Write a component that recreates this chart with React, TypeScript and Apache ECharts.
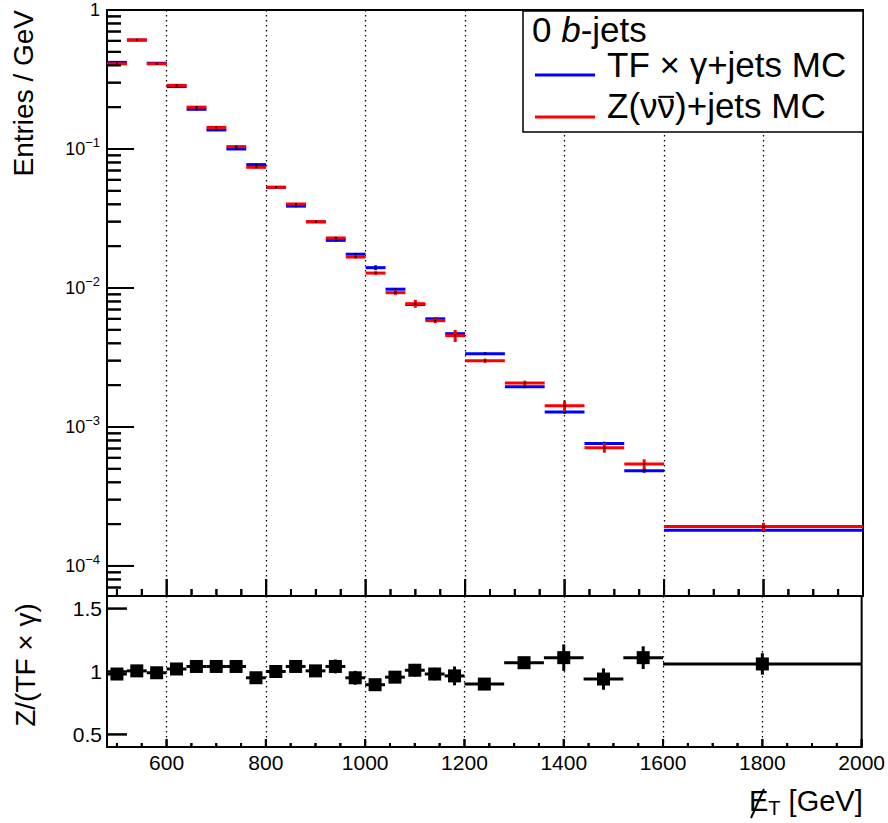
import React, { useEffect, useRef } from "react";
import * as echarts from "echarts";

// ---- data ----
const binEdges = [480, 520, 560, 600, 640, 680, 720, 760, 800, 840, 880, 920, 960, 1000, 1040, 1080, 1120, 1160, 1200, 1280, 1360, 1440, 1520, 1600, 2000];
const zValues = [0.41, 0.61, 0.41, 0.287, 0.2, 0.143, 0.104, 0.0738, 0.053, 0.0402, 0.03, 0.0229, 0.0167, 0.0128, 0.00925, 0.00771, 0.00582, 0.00454, 0.003, 0.00207, 0.00142, 0.00071, 0.000542, 0.000192];
const zRelErr = [0.006, 0.006, 0.007, 0.008, 0.009, 0.01, 0.012, 0.014, 0.016, 0.018, 0.02, 0.022, 0.025, 0.03, 0.035, 0.066, 0.04, 0.1, 0.035, 0.04, 0.09, 0.08, 0.08, 0.066];
const tfValues = [0.42, 0.607, 0.414, 0.281, 0.193, 0.137, 0.1, 0.0772, 0.053, 0.0388, 0.0299, 0.022, 0.0175, 0.014, 0.0098, 0.0076, 0.006, 0.00469, 0.00337, 0.00195, 0.00128, 0.00076, 0.000485, 0.000181];
const tfRelErr = [0.004, 0.004, 0.005, 0.005, 0.006, 0.006, 0.007, 0.008, 0.009, 0.01, 0.011, 0.012, 0.014, 0.04, 0.016, 0.018, 0.02, 0.022, 0.025, 0.025, 0.03, 0.03, 0.035, 0.03];
const ratioValues = [0.98, 1.005, 0.99, 1.02, 1.04, 1.04, 1.04, 0.95, 1.0, 1.04, 1.005, 1.04, 0.95, 0.895, 0.955, 1.01, 0.98, 0.965, 0.9, 1.07, 1.11, 0.94, 1.11, 1.06];
const ratioErr = [0.02, 0.02, 0.02, 0.02, 0.02, 0.02, 0.025, 0.025, 0.03, 0.03, 0.035, 0.055, 0.055, 0.045, 0.045, 0.05, 0.05, 0.075, 0.045, 0.04, 0.105, 0.085, 0.09, 0.085];

const xMajorTicks = [600, 800, 1000, 1200, 1400, 1600, 1800, 2000];
const xGridLines = [600, 800, 1000, 1200, 1400, 1600, 1800];
const yMajorTicks = [0.0001, 0.001, 0.01, 0.1, 1];
const ratioTicks = [0.5, 1, 1.5];

const X_MIN = 480;
const X_MAX = 2000;
const Y_MIN = 6.08e-5;
const Y_MAX = 1;
const R_MIN = 0.4;
const R_MAX = 1.6;

const xMinorTicks: number[] = [];
for (let v = 500; v < 2000; v += 50) if (xMajorTicks.indexOf(v) < 0) xMinorTicks.push(v);
const yMinorTicks: number[] = [];
for (let k = -5; k <= -1; k++) {
  for (let m = 2; m <= 9; m++) {
    const v = m * Math.pow(10, k);
    if (v > Y_MIN && v < Y_MAX) yMinorTicks.push(v);
  }
}

const FONT = "'Liberation Sans', Arial, Helvetica, sans-serif";
const LEG_SIZE = 35;

// tick items shaped like the histogram items: [xLo, xHi, y, isMajor, isYTick]
const upperTickData = [
  ...xMajorTicks.map((v) => [v, v, Y_MIN, 1, 0]),
  ...xMinorTicks.map((v) => [v, v, Y_MIN, 0, 0]),
  ...yMajorTicks.map((v) => [X_MIN, X_MIN, v, 1, 1]),
  ...yMinorTicks.map((v) => [X_MIN, X_MIN, v, 0, 1]),
];
const ratioTickData = [
  ...xMajorTicks.map((v) => [v, v, R_MIN, 1, 0]),
  ...xMinorTicks.map((v) => [v, v, R_MIN, 0, 0]),
  ...ratioTicks.map((v) => [X_MIN, X_MIN, v, 1, 1]),
];

function histData(values: number[], rel: number[]) {
  return values.map((v, i) => [binEdges[i], binEdges[i + 1], v, v * rel[i]]);
}

function histRender(color: string) {
  return (params: any, api: any) => {
    const lo = api.value(0);
    const hi = api.value(1);
    const v = api.value(2);
    const e = api.value(3);
    const mid = (lo + hi) / 2;
    const a = api.coord([lo, v]);
    const b = api.coord([hi, v]);
    const up = api.coord([mid, v + e]);
    const dn = api.coord([mid, v - e]);
    return {
      type: "group",
      children: [
        { type: "line", shape: { x1: a[0], y1: a[1], x2: b[0], y2: b[1] }, style: { stroke: color, lineWidth: 3 } },
        { type: "line", shape: { x1: up[0], y1: up[1], x2: dn[0], y2: dn[1] }, style: { stroke: color, lineWidth: 3 } },
        { type: "rect", shape: { x: up[0] - 1, y: a[1] - 1, width: 2, height: 2 }, style: { fill: "#000" } },
      ],
    };
  };
}

function ratioRender(params: any, api: any) {
  const lo = api.value(0);
  const hi = api.value(1);
  const v = api.value(2);
  const e = api.value(3);
  const mid = (lo + hi) / 2;
  const a = api.coord([lo, v]);
  const b = api.coord([hi, v]);
  const c = api.coord([mid, v]);
  const up = api.coord([mid, v + e]);
  const dn = api.coord([mid, v - e]);
  return {
    type: "group",
    children: [
      { type: "line", shape: { x1: a[0], y1: a[1], x2: b[0], y2: b[1] }, style: { stroke: "#000", lineWidth: 3 } },
      { type: "line", shape: { x1: up[0], y1: up[1], x2: dn[0], y2: dn[1] }, style: { stroke: "#000", lineWidth: 3 } },
      { type: "rect", shape: { x: c[0] - 6.5, y: c[1] - 6.5, width: 13, height: 13 }, style: { fill: "#000" } },
    ],
  };
}

function tickRender(xMajor: number, xMinor: number, yMajor: number, yMinor: number) {
  return (params: any, api: any) => {
    const x = api.value(0);
    const y = api.value(2);
    const major = api.value(3) > 0.5;
    const isY = api.value(4) > 0.5;
    const p = api.coord([x, y]);
    if (isY) {
      const len = major ? yMajor : yMinor;
      return { type: "line", shape: { x1: p[0], y1: p[1], x2: p[0] + len, y2: p[1] }, style: { stroke: "#000", lineWidth: 2 } };
    }
    const len = major ? xMajor : xMinor;
    return { type: "line", shape: { x1: p[0], y1: p[1], x2: p[0], y2: p[1] - len }, style: { stroke: "#000", lineWidth: 2 } };
  };
}

function logLabel(value: number) {
  const ex = Math.round(Math.log10(value));
  if (ex === 0) return "{b|1}";
  return "{b|10}{sup|\u2212" + -ex + "}";
}

function measure(text: string, size: number) {
  try {
    const c = document.createElement("canvas").getContext("2d");
    if (!c) return text.length * size * 0.5;
    c.font = size + "px 'Liberation Sans'";
    return c.measureText(text).width;
  } catch (e) {
    return text.length * size * 0.5;
  }
}

export default function App() {
  const ref = useRef<HTMLDivElement>(null);
  useEffect(() => {
    if (!ref.current) return;
    const chart = echarts.init(ref.current, undefined, { renderer: "svg" });
    const gridL = 107;
    const gridR = 25;
    const option: any = {
      animation: false,
      grid: [
        { left: gridL, right: gridR, top: 10, height: 586, show: true, borderColor: "#000", borderWidth: 2 },
        { left: gridL, right: gridR, top: 596, height: 151, show: true, borderColor: "#000", borderWidth: 2 },
      ],
      xAxis: [
        {
          type: "value", gridIndex: 0, min: X_MIN, max: X_MAX,
          axisLine: { show: false, onZero: false },
          axisTick: { show: false, customValues: xGridLines },
          axisLabel: { show: false },
          splitLine: { show: true, lineStyle: { color: "#000", width: 1.3, type: [1.5, 3.5] } },
        },
        {
          type: "value", gridIndex: 1, min: X_MIN, max: X_MAX,
          axisLine: { show: false, onZero: false },
          axisTick: { show: false, customValues: xGridLines },
          axisLabel: {
            show: true, customValues: xMajorTicks, margin: 5, fontSize: 21, color: "#000", fontFamily: FONT,
            formatter: (v: number) => String(v),
          },
          splitLine: { show: true, lineStyle: { color: "#000", width: 1.3, type: [1.5, 3.5] } },
        },
      ],
      yAxis: [
        {
          type: "log", gridIndex: 0, min: Y_MIN, max: Y_MAX,
          axisLine: { show: false, onZero: false },
          axisTick: { show: false, customValues: yMajorTicks },
          axisLabel: {
            show: true, customValues: yMajorTicks, margin: 7, color: "#000", fontFamily: FONT,
            formatter: logLabel,
            rich: {
              b: { fontSize: 18, lineHeight: 26, fontFamily: FONT, color: "#000" },
              sup: { fontSize: 13, lineHeight: 13, verticalAlign: "top", fontFamily: FONT, color: "#000" },
            },
          },
          splitLine: { show: false },
        },
        {
          type: "value", gridIndex: 1, min: R_MIN, max: R_MAX,
          axisLine: { show: false, onZero: false },
          axisTick: { show: false, customValues: ratioTicks },
          axisLabel: {
            show: true, customValues: ratioTicks, margin: 5, fontSize: 21, color: "#000", fontFamily: FONT,
            formatter: (v: number) => String(v),
          },
          splitLine: { show: false },
        },
      ],
      series: [
        {
          type: "custom", name: "TF", xAxisIndex: 0, yAxisIndex: 0,
          renderItem: histRender("#0000ff"),
          encode: { x: [0, 1], y: 2 },
          data: histData(tfValues, tfRelErr),
          z: 2,
        },
        {
          type: "custom", name: "Z", xAxisIndex: 0, yAxisIndex: 0,
          renderItem: histRender("#ff0000"),
          encode: { x: [0, 1], y: 2 },
          data: histData(zValues, zRelErr),
          z: 3,
        },
        {
          type: "custom", name: "ratio", xAxisIndex: 1, yAxisIndex: 1,
          renderItem: ratioRender,
          encode: { x: [0, 1], y: 2 },
          data: ratioValues.map((v, i) => [binEdges[i], binEdges[i + 1], v, ratioErr[i]]),
          z: 3,
        },
        {
          type: "custom", name: "upperTicks", xAxisIndex: 0, yAxisIndex: 0,
          renderItem: tickRender(17, 7, 27, 14),
          encode: { x: [0, 1], y: 2 },
          data: upperTickData,
          z: 4,
        },
        {
          type: "custom", name: "ratioTicks", xAxisIndex: 1, yAxisIndex: 1,
          renderItem: tickRender(8, 4, 20, 10),
          encode: { x: [0, 1], y: 2 },
          data: ratioTickData,
          z: 4,
        },
      ],
    };
    chart.setOption(option);

    // same tick marks again via convertToPixel (coincident)
    const ticks: any[] = [];
    try {
      const xTick = (grid: number, yBottom: number, v: number, len: number) => {
        const p: any = chart.convertToPixel({ xAxisIndex: grid, yAxisIndex: grid }, [v, yBottom]);
        if (!p || isNaN(p[0]) || isNaN(p[1])) return;
        ticks.push({ type: "line", shape: { x1: p[0], y1: p[1], x2: p[0], y2: p[1] - len }, style: { stroke: "#000", lineWidth: 2 } });
      };
      const yTick = (grid: number, v: number, len: number) => {
        const p: any = chart.convertToPixel({ xAxisIndex: grid, yAxisIndex: grid }, [X_MIN, v]);
        if (!p || isNaN(p[0]) || isNaN(p[1])) return;
        ticks.push({ type: "line", shape: { x1: p[0], y1: p[1], x2: p[0] + len, y2: p[1] }, style: { stroke: "#000", lineWidth: 2 } });
      };
      xMajorTicks.forEach((v) => { xTick(0, Y_MIN, v, 17); xTick(1, R_MIN, v, 8); });
      xMinorTicks.forEach((v) => { xTick(0, Y_MIN, v, 7); xTick(1, R_MIN, v, 4); });
      yMajorTicks.forEach((v) => yTick(0, v, 27));
      yMinorTicks.forEach((v) => yTick(0, v, 14));
      ratioTicks.forEach((v) => yTick(1, v, 20));
    } catch (e) {
      // ignore
    }

    const baseOff = 0.3465 * LEG_SIZE;
    const legX = 607;
    const nuStart = legX + measure("Z(\u03bd", LEG_SIZE);
    const nuW = measure("\u03bd", LEG_SIZE);
    const overY = 118 - 0.519 * LEG_SIZE - 3;

    const graphics: any[] = [
      ...ticks,
      { type: "rect", shape: { x: 523, y: 11, width: 340, height: 121 }, style: { fill: "#fff", stroke: "#000", lineWidth: 1.5 } },
      {
        type: "text", x: 532, y: 42 - baseOff,
        style: {
          text: "0 {i|b}-jets", fontSize: LEG_SIZE, lineHeight: 28, fontFamily: FONT, fill: "#000", verticalAlign: "middle", align: "left",
          rich: { i: { fontStyle: "italic", fontSize: LEG_SIZE, lineHeight: 28, fontFamily: FONT } },
        },
      },
      { type: "line", shape: { x1: 535, y1: 75, x2: 595, y2: 75 }, style: { stroke: "#0000ff", lineWidth: 3 } },
      { type: "line", shape: { x1: 535, y1: 117, x2: 595, y2: 117 }, style: { stroke: "#ff0000", lineWidth: 3 } },
      {
        type: "text", x: legX, y: 77 - baseOff,
        style: { text: "TF \u00d7 \u03b3+jets MC", fontSize: LEG_SIZE, lineHeight: 28, fontFamily: FONT, fill: "#000", verticalAlign: "middle", align: "left" },
      },
      {
        type: "text", x: legX, y: 118 - baseOff,
        style: { text: "Z(\u03bd\u03bd)+jets MC", fontSize: LEG_SIZE, lineHeight: 28, fontFamily: FONT, fill: "#000", verticalAlign: "middle", align: "left" },
      },
      {
        type: "line",
        shape: { x1: nuStart + 1, y1: overY, x2: nuStart + nuW - 1, y2: overY },
        style: { stroke: "#000", lineWidth: 2 },
      },
      {
        type: "text", x: 23, y: 10, rotation: Math.PI / 2,
        style: { text: "Entries / GeV", fontSize: 28, fontFamily: FONT, fill: "#000", align: "right", verticalAlign: "middle" },
      },
      {
        type: "text", x: 25, y: 665, rotation: Math.PI / 2,
        style: { text: "Z/(TF \u00d7 \u03b3)", fontSize: 28, fontFamily: FONT, fill: "#000", align: "center", verticalAlign: "middle" },
      },
      {
        type: "text", x: 749, y: 801,
        style: {
          text: "{e|E}{s|T} [GeV]", fontSize: 29, fontFamily: FONT, fill: "#000", align: "left", verticalAlign: "middle",
          rich: {
            e: { fontSize: 29, fontFamily: FONT, lineHeight: 34 },
            s: { fontSize: 20, fontFamily: FONT, lineHeight: 34, verticalAlign: "bottom" },
          },
        },
      },
      { type: "line", shape: { x1: 751, y1: 818, x2: 764, y2: 789 }, style: { stroke: "#000", lineWidth: 2 } },
    ];
    chart.setOption({ graphic: graphics });
    return () => chart.dispose();
  }, []);
  return (
    <div
      ref={ref}
      style={{ position: "fixed", left: 0, top: 0, width: 888, height: 823, background: "#fff" }}
    />
  );
}
